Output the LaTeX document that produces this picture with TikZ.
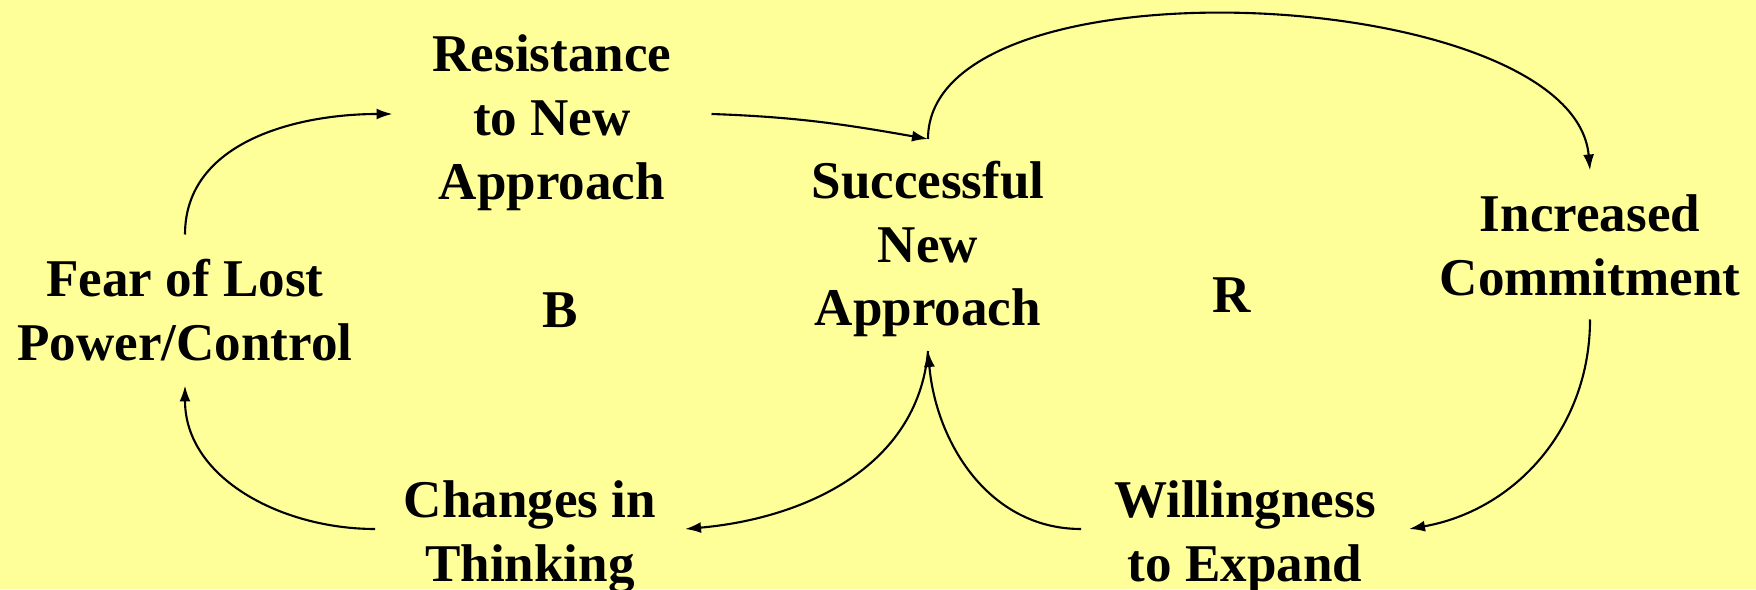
\documentclass[tikz,border=0pt]{standalone}
\usepackage{fontspec}
\setmainfont{Liberation Serif}
\usepackage{tikz}
\usetikzlibrary{arrows.meta}
\usetikzlibrary{positioning}
\definecolor{bgyellow}{RGB}{255,255,153}
\tikzset{
    mynode/.style = {align=center, inner sep=0pt, outer sep=0pt},
    loopnode/.style = {inner sep=0pt, outer sep=0pt},
}

\begin{document}
\begin{tikzpicture}[
	font=\fontsize{15.1}{18.2}\selectfont\bfseries
]
\tikzset{
    edgea/.style = {line width=0.6pt, -{Latex[length=1.6mm,width=1.1mm]}}
}
\fill[bgyellow] (0,0) rectangle (17.56,5.89);
\useasboundingbox (0,0) rectangle (17.56,5.89);
\node[mynode, minimum height=1.51cm] at (1.85,2.79) (fear) {Fear of Lost\\Power/Control};
\node[mynode, minimum width=3.19cm] at (5.52,4.66) (res) {Resistance\\to New\\Approach};
\node[mynode, minimum height=2.12cm] at (9.28,3.40) (succ) {Successful\\New\\Approach};
\node[mynode, minimum height=1.49cm] at (15.90,3.44) (inc) {Increased\\Commitment};
\node[mynode, minimum width=3.28cm] at (12.45,0.52) (will) {Willingness\\to Expand};
\node[mynode, minimum width=3.10cm] at (5.30,0.52) (chg) {Changes in\\Thinking};
\node[loopnode] at (5.60,2.79) (b) {B};
\node[loopnode] at (12.32,2.94) (r) {R};
%
\draw[edgea] (fear.north) to[out=90,in=180] ([yshift=0.09cm]res.west);
\draw[edgea] ([yshift=0.09cm]res.east) to[out=-2,in=170] ([yshift=0.04cm]succ.north);
\draw[edgea] ([yshift=0.04cm]succ.north) to[out=90,in=95,looseness=0.72] (inc.north);
%
\draw[edgea] (inc.south) to[out=-90,in=10] ([yshift=0.08cm]will.east);
\draw[edgea] ([yshift=0.08cm]will.west) to[out=180,in=-85] ([yshift=0.04cm]succ.south);
\draw[edgea] ([yshift=0.04cm]succ.south) to[out=-95,in=5] ([yshift=0.08cm]chg.east);
\draw[edgea] ([yshift=0.08cm]chg.west) to[out=180,in=-90] (fear.south);
\end{tikzpicture}
\end{document}
